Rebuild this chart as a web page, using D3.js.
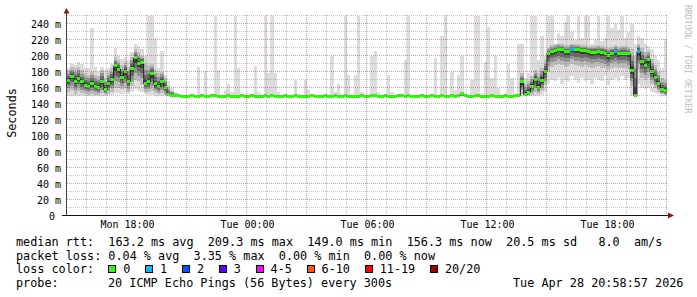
<!DOCTYPE html>
<html>
<head>
<meta charset="utf-8">
<script src="https://cdn.jsdelivr.net/npm/d3@7"></script>
<style>
  body { margin: 0; background: #fff; }
  svg { display: block; font-family: "DejaVu Sans Mono", monospace; }
</style>
</head>
<body>
<div id="chart"></div>
<script>
// 10 minute steps, Mon 15:00 -> Tue 21:00
const start = new Date(2026, 3, 27, 15, 0);
const end = new Date(2026, 3, 28, 21, 0);
const stepMin = 10;

// median rtt (ms)
const median = [
  169,174,168,171,167,163,161,165,161,160,168,157,165,170,187,183,172,180,167,184,
  197,190,191,165,167,177,165,161,168,160,151,150,150,
  150,149,149,149,150,149,149,150,149,149,
  150,150,149,149,149,150,149,149,149,150,
  149,149,150,149,149,149,150,149,150,149,
  149,149,150,149,149,150,149,149,149,149,
  150,149,149,149,150,149,149,150,149,149,
  150,149,149,149,149,150,149,149,150,150,
  149,149,150,149,149,149,150,150,149,150,
  149,149,149,150,149,149,150,149,149,150,
  149,149,150,149,150,152,150,149,149,150,
  150,149,149,149,150,149,149,149,150,149,149,150,
  150,167,151,154,161,170,160,169,180,203,
  205,206,208,207,205,205,208,207,207,206,
  206,205,204,204,205,204,203,200,203,205,
  202,203,203,202,181,150,205,192,188,195,
  180,172,165,157,156
];

// dense smoke (most of the 20 pings)
const coreLo = [
  155,157,152,156,153,152,151,152,151,151,153,151,152,155,160,160,158,160,155,162,
  170,168,163,155,154,156,153,152,153,151,150,149,149,
  149,149,149,149,149,149,149,149,149,149,
  149,149,149,149,149,149,149,149,149,149,
  149,149,149,149,149,149,149,149,149,149,
  149,149,149,149,149,149,149,149,149,149,
  149,149,149,149,149,149,149,149,149,149,
  149,149,149,149,149,149,149,149,149,149,
  149,149,149,149,149,149,149,149,149,149,
  149,149,149,149,149,149,149,149,149,149,
  149,149,149,149,149,149,149,149,149,149,
  149,149,149,149,149,149,149,149,149,149,149,149,
  149,152,149,150,151,155,152,156,163,180,
  186,188,190,188,186,187,190,188,187,186,
  188,186,185,186,187,185,184,182,185,186,
  184,185,185,183,162,150,182,172,170,172,
  165,160,155,152,151
];
const coreHi = [
  182,186,184,186,182,178,176,180,176,174,182,172,180,184,198,194,188,192,186,198,
  208,204,200,190,188,190,182,178,180,172,162,156,153,
  151,151,151,151,151,151,151,151,151,151,
  151,151,151,151,151,151,151,151,151,151,
  151,151,151,151,151,151,151,151,151,151,
  151,151,151,151,151,151,151,151,151,151,
  151,151,151,151,151,151,151,151,151,151,
  151,151,151,151,151,151,151,151,151,151,
  151,151,151,151,151,151,151,151,151,151,
  151,151,151,151,151,151,151,151,151,151,
  151,151,151,151,151,154,151,151,151,151,
  151,151,151,151,151,151,151,151,151,151,151,151,
  152,178,165,168,175,182,178,185,194,210,
  213,214,215,214,213,213,215,214,214,213,
  213,212,212,212,213,212,211,210,211,213,
  211,212,212,211,208,200,215,210,205,206,
  196,188,180,172,170
];

// light smoke (outliers)
const smokeLo = [
  150,150,150,150,150,150,150,150,150,150,150,150,150,151,153,153,152,153,152,155,
  158,156,155,152,151,151,150,150,150,150,149,149,149,
  149,149,149,149,149,149,149,149,149,149,
  149,149,149,149,149,149,149,149,149,149,
  149,149,149,149,149,149,149,149,149,149,
  149,149,149,149,149,149,149,149,149,149,
  149,149,149,149,149,149,149,149,149,149,
  149,149,149,149,149,149,149,149,149,149,
  149,149,149,149,149,149,149,149,149,149,
  149,149,149,149,149,149,149,149,149,149,
  149,149,149,149,149,149,149,149,149,149,
  149,149,149,149,149,149,149,149,149,149,149,149,
  149,150,149,149,150,150,150,151,155,165,
  170,168,172,165,170,168,175,170,166,172,
  168,170,165,172,170,168,175,163,170,172,
  168,175,170,172,150,149,165,160,158,160,
  155,153,152,150,150
];
const smokeHi = [
  185,190,188,192,190,185,185,235,186,180,186,182,185,190,210,200,196,198,195,205,
  215,212,208,200,250,250,222,185,206,176,168,160,155,
  151,151,151,151,151,151,186,151,181,151,
  151,250,182,151,157,165,155,250,184,151,
  151,151,151,187,155,151,250,178,250,178,
  154,151,151,151,151,169,152,151,169,157,
  151,151,151,151,151,151,200,155,164,151,
  250,176,151,176,250,154,151,151,199,206,
  155,151,151,176,155,151,151,151,194,250,
  151,151,151,151,151,151,151,197,151,224,
  250,151,180,157,176,199,151,151,169,250,
  250,151,192,236,172,200,160,151,151,190,172,151,
  215,215,172,178,250,250,195,225,200,250,
  250,215,228,225,242,250,230,220,250,222,
  250,250,215,220,250,218,222,250,235,240,
  232,250,222,230,240,215,225,222,215,212,
  208,200,195,185,221
];

// steps with packet loss: [step, lost pings]
const lossAt = [[151, 1], [164, 1], [171, 1]];

const yTicks = [0, 20, 40, 60, 80, 100, 120, 140, 160, 180, 200, 220, 240];

const lossNames = ["0", "1", "2", "3", "4-5", "6-10", "11-19", "20/20"];
const lossColors = ["#26ff00", "#00b8ff", "#0059ff", "#5e00ff", "#ff00ff", "#ff5500", "#ff0000", "#a00000"];
const lossMax = [0, 1, 2, 3, 5, 10, 19, 20];

const rttLine = "median rtt:  163.2 ms avg  209.3 ms max  149.0 ms min  156.3 ms now  20.5 ms sd   8.0  am/s";
const lossLine = "packet loss: 0.04 % avg  3.35 % max  0.00 % min  0.00 % now";
const probeText = "20 ICMP Echo Pings (56 Bytes) every 300s";
const stampText = "Tue Apr 28 20:58:57 2026";

const W = 697, H = 297;

const svg = d3.select("#chart").append("svg")
  .attr("width", W)
  .attr("height", H);

const x = d3.scaleTime().domain([start, end]).range([67, 667]);
const y = d3.scaleLinear().domain([0, 250]).range([215.5, 15.5]);

const loss = median.map(() => 0);
lossAt.forEach(([i, l]) => { loss[i] = l; });

const data = median.map((m, i) => ({
  i: i,
  t0: d3.timeMinute.offset(start, i * stepMin),
  t1: d3.timeMinute.offset(start, (i + 1) * stepMin),
  m: m,
  cLo: coreLo[i], cHi: coreHi[i],
  sLo: smokeLo[i], sHi: smokeHi[i],
  loss: loss[i]
}));

const plot = svg.append("g");

function band(cls, lo, hi, color) {
  plot.append("g").attr("class", cls)
    .selectAll("rect")
    .data(data)
    .join("rect")
    .attr("x", d => x(d.t0))
    .attr("width", d => x(d.t1) - x(d.t0))
    .attr("y", d => y(hi(d)))
    .attr("height", d => Math.max(0, y(lo(d)) - y(hi(d))))
    .attr("fill", color)
    .attr("shape-rendering", "crispEdges");
}

// smoke, lightest first
band("smoke-out", d => d.sLo, d => d.sHi, "#dcdcdc");
const shades = [[1, "#bcbcbc"], [0.7, "#949494"], [0.45, "#6a6a6a"], [0.22, "#3e3e3e"]];
shades.forEach(([f, c], k) => {
  band("smoke-" + k,
    d => d.m - f * (d.m - d.cLo),
    d => d.m + f * (d.cHi - d.m),
    c);
});

// median connecting line
const pts = data.map(d => [d.t0, d.m]);
pts.push([end, median[median.length - 1]]);
plot.append("path")
  .attr("d", d3.line().x(p => x(p[0])).y(p => y(p[1])).curve(d3.curveStepAfter)(pts))
  .attr("fill", "none")
  .attr("stroke", "#202020")
  .attr("stroke-width", 1);

// median colored by loss
function lossColor(l) {
  return lossColors[lossMax.findIndex(v => l <= v)];
}
plot.append("g")
  .selectAll("rect")
  .data(data)
  .join("rect")
  .attr("x", d => x(d.t0))
  .attr("width", d => x(d.t1) - x(d.t0))
  .attr("y", d => y(d.m) - 1.5)
  .attr("height", 3)
  .attr("fill", d => lossColor(d.loss))
  .attr("shape-rendering", "crispEdges");

// grid (on top, like rrdtool)
const grid = svg.append("g").attr("stroke-dasharray", "1,1").attr("shape-rendering", "crispEdges");
const hLines = d3.range(10, 251, 10);
grid.selectAll("line.h")
  .data(hLines)
  .join("line")
  .attr("x1", 67).attr("x2", 667)
  .attr("y1", v => Math.floor(y(v)) + 0.5)
  .attr("y2", v => Math.floor(y(v)) + 0.5)
  .attr("stroke", v => v % 20 === 0 ? "rgba(170,40,40,0.45)" : "rgba(140,140,140,0.5)");

const vLines = d3.timeHour.range(d3.timeHour.offset(start, 1), d3.timeHour.offset(end, 1));
grid.selectAll("line.v")
  .data(vLines)
  .join("line")
  .attr("x1", t => Math.round(x(t)) - 0.5)
  .attr("x2", t => Math.round(x(t)) - 0.5)
  .attr("y1", 15).attr("y2", 215)
  .attr("stroke", t => t.getHours() % 3 === 0 ? "rgba(170,40,40,0.45)" : "rgba(140,140,140,0.5)");

// axes
const yAxis = svg.append("g")
  .attr("transform", "translate(67,0)")
  .call(d3.axisLeft(y).tickValues(yTicks).tickSize(0).tickPadding(6)
    .tickFormat(v => v === 0 ? "0\u00a0" : v + " m"));
yAxis.select(".domain").remove();
yAxis.selectAll("text")
  .attr("font-family", "DejaVu Sans Mono")
  .attr("font-size", 10)
  .attr("fill", "#000")
  .attr("dy", "0.42em");

const xAxis = svg.append("g")
  .attr("transform", "translate(0,215)")
  .call(d3.axisBottom(x).ticks(d3.timeHour.every(6)).tickSize(0).tickPadding(6)
    .tickFormat(d3.timeFormat("%a %H:%M")));
xAxis.select(".domain").remove();
xAxis.selectAll("text")
  .attr("font-family", "DejaVu Sans Mono")
  .attr("font-size", 10)
  .attr("fill", "#000");

svg.append("line")
  .attr("x1", 66.5).attr("x2", 66.5).attr("y1", 216).attr("y2", 12)
  .attr("stroke", "#444");
svg.append("line")
  .attr("x1", 62).attr("x2", 670).attr("y1", 215.5).attr("y2", 215.5)
  .attr("stroke", "#111");
svg.append("path")
  .attr("d", "M63.5,13.5L66.5,8L69.5,13.5Z")
  .attr("fill", "#8b1a1a");
svg.append("path")
  .attr("d", "M668,212.5L674,215.5L668,218.5Z")
  .attr("fill", "#8b1a1a");

// titles
svg.append("text")
  .attr("transform", "translate(15.5,113) rotate(-90)")
  .attr("text-anchor", "middle")
  .attr("font-size", 11.8)
  .text("Seconds");

svg.append("text")
  .attr("transform", "translate(685,5) rotate(90)")
  .attr("font-size", 8.2)
  .attr("fill", "#bdbdbd")
  .text("RRDTOOL / TOBI OETIKER");

// legend
const leg = svg.append("g").attr("font-size", 11.8).attr("fill", "#000");
leg.append("text").attr("x", 16).attr("y", 246).attr("xml:space", "preserve").text(rttLine);
leg.append("text").attr("x", 16).attr("y", 259.6).attr("xml:space", "preserve").text(lossLine);
leg.append("text").attr("x", 16).attr("y", 273.3).text("loss color:");
leg.append("text").attr("x", 16).attr("y", 287).text("probe:");
leg.append("text").attr("x", 108).attr("y", 287).text(probeText);
leg.append("text").attr("x", 513).attr("y", 287).text(stampText);

let bx = 108.3;
lossNames.forEach((name, k) => {
  leg.append("rect")
    .attr("x", Math.round(bx) + 0.5).attr("y", 265.5)
    .attr("width", 7).attr("height", 7)
    .attr("fill", lossColors[k])
    .attr("stroke", "#000");
  const t = leg.append("text").attr("x", bx + 15).attr("y", 273.3).text(name);
  bx = bx + 15 + t.node().getComputedTextLength() + 14.7;
});
</script>
</body>
</html>
